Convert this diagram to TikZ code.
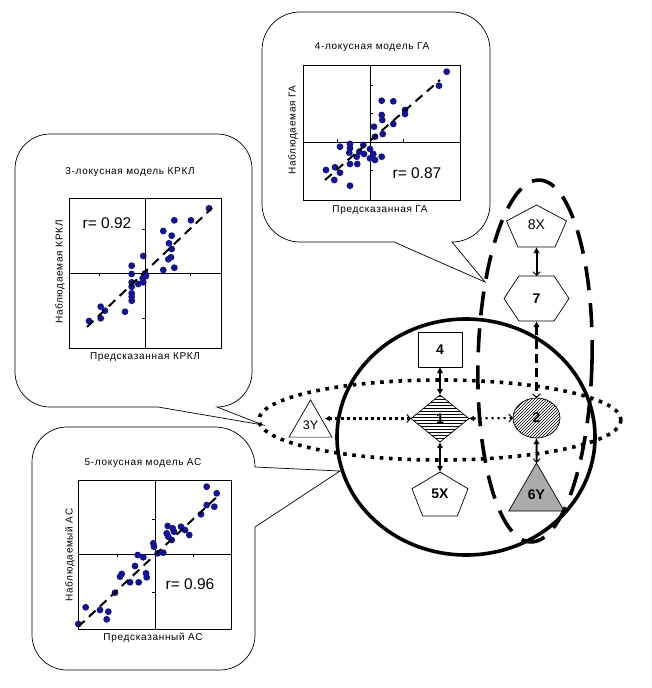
\documentclass[tikz,border=0pt]{standalone}
\usepackage{fontspec}
\setmainfont{Liberation Sans}
\newfontfamily\spacedfont[LetterSpace=7]{Liberation Sans}
\usetikzlibrary{shapes.geometric,arrows.meta,patterns,calc}
\definecolor{dotblue}{RGB}{20,20,140}
\newcommand\drawpenta[1]{%
  \draw[shapeline] (#1.north) -- ($(#1.north east)!0.38!(#1.south east)$)
    -- ($(#1.south west)!0.81!(#1.south east)$) -- ($(#1.south west)!0.19!(#1.south east)$)
    -- ($(#1.north west)!0.38!(#1.south west)$) -- cycle;}
\newcommand\drawhexa[1]{%
  \draw[shapeline] ($(#1.north west)!0.23!(#1.north east)$) -- ($(#1.north west)!0.77!(#1.north east)$)
    -- (#1.east) -- ($(#1.south west)!0.77!(#1.south east)$) -- ($(#1.south west)!0.23!(#1.south east)$)
    -- (#1.west) -- cycle;}
\begin{document}
\begin{tikzpicture}[x=1pt,y=-1pt,
  callout/.style={line width=0.7pt},
  plotframe/.style={line width=0.8pt},
  tick/.style={line width=0.8pt},
  regline/.style={line width=2pt, dash pattern=on 9pt off 6pt},
  ttl/.style={font=\spacedfont\fontsize{10}{12}\selectfont, inner sep=0pt},
  rlab/.style={font=\fontsize{15.5}{18}\selectfont, inner sep=0pt},
  shapeline/.style={line width=0.7pt, fill=white},
  lblb/.style={font=\fontsize{14}{16}\selectfont\bfseries},
  lblr/.style={font=\fontsize{14}{16}\selectfont},
  bbox/.style 2 args={minimum width=#1, minimum height=#2, inner sep=0pt, outer sep=0pt},
  thickarrow/.style={line width=2.2pt, {Latex[length=6pt,width=6.5pt]}-{Latex[length=6pt,width=6.5pt]}},
  midarrow/.style={line width=2pt, {Latex[length=6pt,width=6.5pt]}-{Straight Barb[length=3.5pt,width=7pt,line width=1pt]}},
  dasharrow/.style={line width=2.6pt, dash pattern=on 9pt off 5pt, {Latex[length=6pt,width=6.5pt]}-{Straight Barb[length=3.5pt,width=8pt,line width=1pt]}},
  dotarrow/.style={line width=2.2pt, dash pattern=on 2.2pt off 3.8pt, {Latex[length=5pt,width=6pt]}-{Straight Barb[length=3.5pt,width=8pt,line width=1pt]}},
  bigdot/.style={line width=3.6pt, dash pattern=on 3.6pt off 5.6pt},
  bigdash/.style={line width=3.6pt, dash pattern=on 24pt off 13pt},
  bigsolid/.style={line width=3.6pt}
]
\useasboundingbox[fill=white] (0,0) rectangle (652,688);

% ---------- callout ГА ----------
\draw[callout] (394,242) -- (300,242) arc[start angle=90,end angle=180,radius=38]
  -- (262,50) arc[start angle=180,end angle=270,radius=38]
  -- (452,12) arc[start angle=270,end angle=360,radius=38]
  -- (490,204) arc[start angle=0,end angle=90,radius=38]
  -- (485,282) -- cycle;
\node[ttl] (t1) at (372,47) {4-локусная модель ГА};
\draw[plotframe] (303,65) rectangle (460,200);
\draw[plotframe] (370,65) -- (370,200) (303,142) -- (460,142);
\draw[tick] (370,85) -- (373,85) (370,113) -- (373,113) (370,170) -- (373,170)
  (337,142) -- (337,139) (403,142) -- (403,139);
\foreach \p in {(446.7,71.7),(439,85.7),(381.7,100.7),(393.3,101.3),(405,110),(405,114),
  (381.7,115),(382.3,120),(393.3,124),(374,126.7),(382.7,134),(375,136.7),(340,146.7),
  (350,144),(350,148.3),(349.3,152.7),(363.3,145),(359.3,151.7),(370,149),(356.7,156.7),
  (364,154),(373.3,154),(370,158.3),(375,160),(381.7,156.7),(350,164),(357.3,164),
  (335,167.3),(326,170),(340,172.7),(334.3,180),(350,185.7)}
  \fill[dotblue] \p circle[radius=3.4];
\draw[regline] (325,180) -- (440,80);
\node[ttl] (x1) at (380,210) {Предсказанная ГА};
\node[ttl, rotate=90] (y1) at (293,130) {Наблюдаемая ГА};
\node[rlab] (r1) at (417,173) {r= 0.87};

% ---------- callout КРКЛ ----------
\draw[callout] (158,407) -- (50,407) arc[start angle=90,end angle=180,radius=35]
  -- (15,169) arc[start angle=180,end angle=270,radius=35]
  -- (217,134) arc[start angle=270,end angle=360,radius=35]
  -- (252,372) arc[start angle=0,end angle=90,radius=35]
  -- (263,425) -- cycle;
\node[ttl] (t2) at (130,172) {3-локусная модель КРКЛ};
\draw[plotframe] (69,198) rectangle (221,348);
\draw[plotframe] (145,198) -- (145,348) (69,273) -- (221,273);
\draw[tick] (145,229) -- (142,229) (145,318) -- (142,318)
  (99,273) -- (99,276) (190,273) -- (190,276);
\foreach \p in {(209,208.3),(174.3,220.3),(191,220.3),(163.3,231),(171.7,235.7),(169,243.3),
  (171.7,249),(171,257.3),(168.3,259.3),(174.3,267.7),(163.3,270),(143.3,256),(131.7,265.7),
  (131.7,274),(145,273.3),(146,276),(142.7,278.3),(138.3,284),(143.3,282.3),(131.7,282.3),
  (131.7,286.7),(131.7,293.3),(131.7,296.7),(131.7,300.7),(125,311.7),(100.7,306.7),
  (105,310.7),(100.7,318.3),(89,321)}
  \fill[dotblue] \p circle[radius=3.4];
\draw[regline] (87,327) -- (212,208);
\node[ttl] (x2) at (145,357) {Предсказанная КРКЛ};
\node[ttl, rotate=90] (y2) at (60,272) {Наблюдаемая КРКЛ};
\node[rlab] (r2) at (107,223) {r= 0.92};

% ---------- callout АС ----------
\draw[callout] (255,527) -- (255,635) arc[start angle=0,end angle=90,radius=35]
  -- (67,670) arc[start angle=90,end angle=180,radius=35]
  -- (32,462) arc[start angle=180,end angle=270,radius=35]
  -- (215,427) arc[start angle=270,end angle=360,radius=40]
  -- (340,471) -- cycle;
\node[ttl] (t3) at (143,463) {5-локусная модель АС};
\draw[plotframe] (78,480) rectangle (231,629);
\draw[plotframe] (155,480) -- (155,629) (78,554) -- (231,554);
\draw[tick] (155,519) -- (152,519) (155,592) -- (152,592)
  (117,554) -- (117,557) (193,554) -- (193,557);
\foreach \p in {(206.7,486.7),(216.7,493.3),(206.7,505),(214.3,506.7),(201,514.3),(167.7,526),
  (172.7,528.3),(166.7,533.3),(174,531.7),(181,526.7),(185,530),(189.3,535),(171.7,540),
  (168.3,536.7),(153.3,543.3),(154,546.7),(157.7,553.3),(163.3,552.7),(137.7,555),
  (143.3,557.3),(135,566),(121.7,574),(120,576.7),(146,573.3),(146.7,577.3),(130,582.3),
  (138.7,582.3),(115,592.7),(85.7,607.3),(100,610),(108.3,611.7),(106.7,619.3),(78.3,624)}
  \fill[dotblue] \p circle[radius=3.4];
\draw[regline] (78,627) -- (220,494);
\node[ttl] (x3) at (153,638) {Предсказанный АС};
\node[ttl, rotate=90] (y3) at (70,555) {Наблюдаемый АС};
\node[rlab] (r3) at (190,584) {r= 0.96};

% ---------- nodes ----------
\node[draw, fill=white, line width=0.7pt, lblb, bbox={44pt}{35pt}] (n4) at (440,349.5) {4};
\node[diamond, draw, line width=0.7pt, preaction={fill=white}, pattern=horizontal lines,
  lblb, minimum width=58pt, minimum height=47pt, inner sep=0pt, outer sep=0pt, aspect=1.23]
  (n1) at (440,418.5) {1};
\node[ellipse, draw, line width=0.7pt, preaction={fill=white}, pattern=north east lines,
  lblb, minimum width=47pt, minimum height=40pt, inner sep=0pt, outer sep=0pt]
  (n2) at (536.5,418) {2};
\node[regular polygon, regular polygon sides=3, draw, fill=white, line width=0.7pt,
  minimum size=49.6pt, inner sep=0pt, outer sep=0pt, font=\fontsize{12.5}{14}\selectfont]
  (n3) at (310.5,424.7) {3Y};
\node[regular polygon, regular polygon sides=3, draw, fill=black!33, line width=0.7pt,
  minimum size=64pt, inner sep=0pt, outer sep=0pt, lblb]
  (n6) at (536.5,495) {6Y};
\node[bbox={56pt}{44pt}] (n5) at (440,494) {};
\drawpenta{n5}
\node[lblb] (n5t) at (n5) {5X};
\node[bbox={60pt}{42pt}] (n8) at (536.5,226) {};
\drawpenta{n8}
\node[lblr] (n8t) at ([yshift=1pt]n8.center) {8X};
\node[bbox={65pt}{45pt}] (n7) at (536.5,298.5) {};
\drawhexa{n7}
\node[lblb] (n7t) at (n7) {7};

% ---------- connectors ----------
\draw[thickarrow] (n4.south) -- (n1.north);
\draw[thickarrow] (n1.south) -- (n5.north);
\draw[midarrow] (n8.south) -- (n7.north);
\draw[dasharrow] (n7.south) -- (n2.north);
\draw[midarrow] (n2.south) -- (n6.north);
\draw[dotarrow] (n3.east |- n1.west) -- (n1.west);
\draw[dotarrow] (n1.east) -- (n2.west);

% ---------- groupings ----------
\draw[bigdot] (440,420) ellipse[x radius=181, y radius=40];
\draw[bigdash, rotate around={-1.4:(535,361)}] (535,361) ellipse[x radius=57, y radius=181];
\draw[bigsolid] (466,437) ellipse[x radius=129, y radius=118];
\end{tikzpicture}
\end{document}
